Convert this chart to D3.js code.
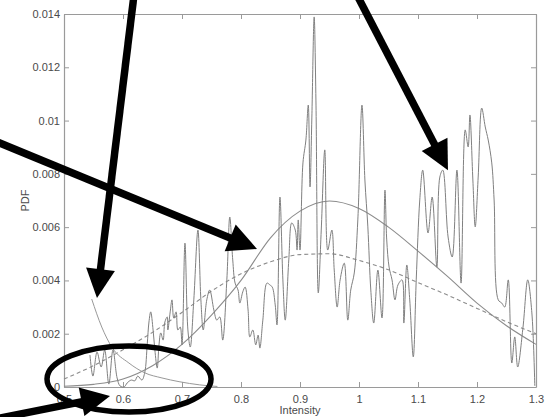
<!DOCTYPE html>
<html><head><meta charset="utf-8">
<script src="https://cdn.jsdelivr.net/npm/d3@7/dist/d3.min.js"></script>
<style>body{margin:0;background:#fff}svg{display:block}</style>
</head><body><svg id="c" width="545" height="417"></svg>
<script>
// ---------- data ----------
const xTickValues = [0.5, 0.6, 0.7, 0.8, 0.9, 1.0, 1.1, 1.2, 1.3];
const xTickLabels = ["0.5", "0.6", "0.7", "0.8", "0.9", "1", "1.1", "1.2", "1.3"];
const yTickValues = [0, 0.002, 0.004, 0.006, 0.008, 0.010, 0.012, 0.014];
const yTickLabels = ["0", "0.002", "0.004", "0.006", "0.008", "0.01", "0.012", "0.014"];

// empirical PDF (noisy trace)
const signalX = [0.544,0.549,0.556,0.563,0.569,0.576,0.583,0.590,0.595,0.602,0.607,0.614,0.620,0.625,0.632,0.637,0.641,0.644,0.647,0.651,0.654,0.658,0.661,0.664,0.668,0.671,0.675,0.676,0.680,0.683,0.686,0.690,0.693,0.697,0.700,0.705,0.710,0.714,0.720,0.727,0.732,0.736,0.742,0.747,0.754,0.759,0.764,0.769,0.776,0.781,0.786,0.790,0.795,0.798,0.803,0.807,0.812,0.815,0.820,0.825,0.829,0.832,0.837,0.844,0.849,0.853,0.858,0.861,0.866,0.871,0.875,0.881,0.886,0.892,0.895,0.897,0.900,0.905,0.910,0.914,0.917,0.920,0.924,0.927,0.931,0.936,0.942,0.947,0.954,0.958,0.963,0.968,0.975,0.981,0.986,0.992,0.998,1.005,1.010,1.015,1.020,1.025,1.032,1.039,1.044,1.047,1.051,1.056,1.061,1.066,1.073,1.076,1.081,1.086,1.092,1.097,1.103,1.108,1.117,1.124,1.132,1.137,1.142,1.151,1.158,1.166,1.173,1.180,1.185,1.188,1.193,1.197,1.202,1.208,1.214,1.219,1.225,1.229,1.236,1.242,1.247,1.253,1.259,1.264,1.269,1.278,1.286,1.293,1.298];
const signalY = [0.00120,0.00041,0.00131,0.00075,0.00139,0.00011,0.00139,0.00034,0.00004,0.00000,0.00015,0.00026,0.00023,0.00041,0.00026,0.00056,0.00158,0.00244,0.00282,0.00214,0.00139,0.00071,0.00158,0.00203,0.00176,0.00244,0.00263,0.00214,0.00282,0.00327,0.00259,0.00282,0.00214,0.00225,0.00158,0.00540,0.00214,0.00150,0.00327,0.00589,0.00327,0.00214,0.00327,0.00364,0.00289,0.00251,0.00263,0.00176,0.00402,0.00638,0.00477,0.00390,0.00364,0.00315,0.00357,0.00375,0.00289,0.00188,0.00214,0.00158,0.00195,0.00146,0.00251,0.00390,0.00383,0.00375,0.00308,0.00233,0.00713,0.00402,0.00251,0.00477,0.00616,0.00589,0.00514,0.00627,0.00514,0.00841,0.00927,0.01058,0.00751,0.01002,0.01389,0.01077,0.00353,0.00589,0.00890,0.00514,0.00589,0.00439,0.00300,0.00402,0.00465,0.00251,0.00364,0.00428,0.00627,0.01058,0.00777,0.00601,0.00364,0.00240,0.00439,0.00259,0.00739,0.00552,0.00450,0.00402,0.00327,0.00383,0.00402,0.00240,0.00458,0.00327,0.00113,0.00402,0.00702,0.00814,0.00578,0.00713,0.00450,0.00788,0.00814,0.00563,0.00488,0.00814,0.00390,0.00965,0.00901,0.01021,0.00777,0.00601,0.00788,0.01047,0.00976,0.00927,0.00841,0.00702,0.00327,0.00315,0.00300,0.00402,0.00090,0.00188,0.00075,0.00225,0.00402,0.00278,0.00004];

// fitted curve (solid)
const fitSolidX = [0.50,0.55,0.60,0.65,0.70,0.75,0.80,0.85,0.90,0.95,1.00,1.05,1.10,1.15,1.20,1.25,1.30];
const fitSolidY = [0.00003,0.00010,0.00030,0.00080,0.00160,0.00270,0.00400,0.00560,0.00660,0.00698,0.00670,0.00600,0.00510,0.00415,0.00315,0.00230,0.00160];

// fitted curve (dashed)
const fitDashedX = [0.50,0.55,0.60,0.65,0.70,0.75,0.80,0.85,0.90,0.95,1.00,1.05,1.10,1.15,1.20,1.25,1.30];
const fitDashedY = [0.00030,0.00080,0.00140,0.00205,0.00280,0.00360,0.00425,0.00470,0.00497,0.00500,0.00475,0.00440,0.00392,0.00345,0.00295,0.00245,0.00200];

// decaying curve (left)
const decayX = [0.547,0.564,0.581,0.610,0.637,0.666,0.695,0.730,0.760];
const decayY = [0.00330,0.00225,0.00150,0.00090,0.00053,0.00034,0.00020,0.00008,0.00002];

// ---------- layout ----------
const svg = d3.select("#c");
const L = 64, R = 536, T = 14, B = 387;
const x = d3.scaleLinear().domain([0.5, 1.3]).range([L, R]);
const y = d3.scaleLinear().domain([0, 0.014]).range([B, T]);
const axisColor = "#9a9a9a";
const font = "'Liberation Sans', Arial, sans-serif";

function styleAxis(g) {
  g.selectAll("path.domain").attr("stroke", axisColor).attr("stroke-width", 1.2);
  g.selectAll(".tick line").attr("stroke", axisColor);
  g.selectAll(".tick text").attr("fill", "#4a4a4a").style("font-family", font).style("font-size", "11px");
}
svg.append("g").attr("transform", `translate(0,${B})`)
  .call(d3.axisBottom(x).tickValues(xTickValues).tickFormat((d, i) => xTickLabels[i]).tickSizeInner(-5).tickSizeOuter(0).tickPadding(8))
  .call(styleAxis);
svg.append("g").attr("transform", `translate(${L},0)`)
  .call(d3.axisLeft(y).tickValues(yTickValues).tickFormat((d, i) => yTickLabels[i]).tickSizeInner(-5).tickSizeOuter(0).tickPadding(4))
  .call(styleAxis);
svg.append("g").attr("transform", `translate(0,${T})`)
  .call(d3.axisTop(x).tickValues(xTickValues).tickFormat("").tickSizeInner(-5).tickSizeOuter(0))
  .call(styleAxis);
svg.append("g").attr("transform", `translate(${R},0)`)
  .call(d3.axisRight(y).tickValues(yTickValues).tickFormat("").tickSizeInner(-5).tickSizeOuter(0))
  .call(styleAxis);

svg.append("text").attr("x", (L + R) / 2).attr("y", 414).attr("text-anchor", "middle")
  .attr("fill", "#4a4a4a").style("font-family", font).style("font-size", "11px").text("Intensity");
svg.append("text").attr("transform", `translate(29,${(T + B) / 2}) rotate(-90)`).attr("text-anchor", "middle")
  .attr("fill", "#4a4a4a").style("font-family", font).style("font-size", "11px").text("PDF");

// curves
const zip = (xs, ys) => xs.map((v, i) => [v, ys[i]]);
const lineNoisy = d3.line().x(d => x(d[0])).y(d => y(d[1])).curve(d3.curveCatmullRom.alpha(0.5));
const lineSmooth = d3.line().x(d => x(d[0])).y(d => y(d[1])).curve(d3.curveMonotoneX);

svg.append("path").datum(zip(fitDashedX, fitDashedY)).attr("d", lineSmooth)
  .attr("fill", "none").attr("stroke", "#8c8c8c").attr("stroke-width", 1.1).attr("stroke-dasharray", "4,3");
svg.append("path").datum(zip(fitSolidX, fitSolidY)).attr("d", lineSmooth)
  .attr("fill", "none").attr("stroke", "#8c8c8c").attr("stroke-width", 1.1);
svg.append("path").datum(zip(decayX, decayY)).attr("d", lineSmooth)
  .attr("fill", "none").attr("stroke", "#999").attr("stroke-width", 1);
svg.append("path").datum(zip(signalX, signalY)).attr("d", lineNoisy)
  .attr("fill", "none").attr("stroke", "#808080").attr("stroke-width", 1).attr("stroke-linejoin", "round");

// ---------- annotations (data coordinates) ----------
const arrows = [
  { from: [0.6186, 0.01471], to: [0.5559, 0.00334] },
  { from: [0.3831, 0.00923], to: [0.8271, 0.00518] },
  { from: [0.9966, 0.01471], to: [1.1508, 0.00814] },
  { from: [0.3831, -0.00120], to: [0.5780, -0.00034] }
];
const headLen = 29, headHalf = 14.5, shaftW = 7.5;
arrows.forEach(a => {
  const x1 = x(a.from[0]), y1 = y(a.from[1]), x2 = x(a.to[0]), y2 = y(a.to[1]);
  const dx = x2 - x1, dy = y2 - y1, len = Math.hypot(dx, dy);
  const ux = dx / len, uy = dy / len;
  const bx = x2 - ux * headLen, by = y2 - uy * headLen;
  svg.append("line").attr("x1", x1).attr("y1", y1).attr("x2", bx + ux * 2).attr("y2", by + uy * 2)
    .attr("stroke", "#000").attr("stroke-width", shaftW);
  svg.append("path").attr("d", `M${x2},${y2}L${bx - uy * headHalf},${by + ux * headHalf}L${bx + uy * headHalf},${by - ux * headHalf}Z`)
    .attr("fill", "#000");
});
const ellipse = { cx: 0.6102, cy: 0.0003, rx: 0.139, ry: 0.00124 };
svg.append("ellipse")
  .attr("cx", x(ellipse.cx)).attr("cy", y(ellipse.cy))
  .attr("rx", x(ellipse.cx + ellipse.rx) - x(ellipse.cx))
  .attr("ry", y(ellipse.cy) - y(ellipse.cy + ellipse.ry))
  .attr("fill", "none").attr("stroke", "#000").attr("stroke-width", 5.5);
</script></body></html>
